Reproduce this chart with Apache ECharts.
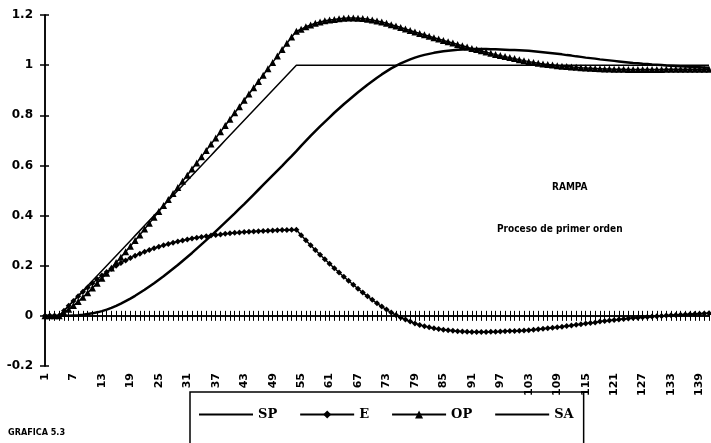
<!DOCTYPE html>
<html>
<head>
<meta charset="utf-8">
<script src="https://cdn.jsdelivr.net/npm/echarts@6/dist/echarts.min.js"></script>
<style>
html,body{margin:0;padding:0;background:#fff;}
#chart{width:711px;height:443px;}
</style>
</head>
<body>
<div id="chart"></div>
<script>
// Category labels (time steps)
const categories = [
1,2,3,4,5,6,7,8,9,10,11,12,13,14,15,16,17,18,19,20,
21,22,23,24,25,26,27,28,29,30,31,32,33,34,35,36,37,38,39,40,
41,42,43,44,45,46,47,48,49,50,51,52,53,54,55,56,57,58,59,60,
61,62,63,64,65,66,67,68,69,70,71,72,73,74,75,76,77,78,79,80,
81,82,83,84,85,86,87,88,89,90,91,92,93,94,95,96,97,98,99,100,
101,102,103,104,105,106,107,108,109,110,111,112,113,114,115,116,117,118,119,120,
121,122,123,124,125,126,127,128,129,130,131,132,133,134,135,136,137,138,139,140,141
].map(String);

// SP: set point (ramp)
const spValues = [
0,0,0,0,
0.02,0.04,0.06,0.08,0.10,0.12,0.14,0.16,0.18,0.20,
0.22,0.24,0.26,0.28,0.30,0.32,0.34,0.36,0.38,0.40,
0.42,0.44,0.46,0.48,0.50,0.52,0.54,0.56,0.58,0.60,
0.62,0.64,0.66,0.68,0.70,0.72,0.74,0.76,0.78,0.80,
0.82,0.84,0.86,0.88,0.90,0.92,0.94,0.96,0.98,1.00,
1,1,1,1,1,1,1,1,1,1,
1,1,1,1,1,1,1,1,1,1,
1,1,1,1,1,1,1,1,1,1,
1,1,1,1,1,1,1,1,1,1,
1,1,1,1,1,1,1,1,1,1,
1,1,1,1,1,1,1,1,1,1,
1,1,1,1,1,1,1,1,1,1,
1,1,1,1,1,1,1,1,1,1,
1,1,1,1,1,1,1
];

// E: error
const eValues = [
0,0,0,0,
0.020,0.040,0.059,0.078,0.096,0.113,0.130,0.146,0.161,0.175,
0.188,0.200,0.211,0.221,0.231,0.240,0.248,0.256,0.263,0.270,
0.276,0.282,0.287,0.292,0.297,0.301,0.305,0.309,0.312,0.315,
0.318,0.321,0.323,0.325,0.327,0.329,0.331,0.332,0.334,0.335,
0.336,0.337,0.338,0.339,0.340,0.341,0.342,0.342,0.343,0.343,
0.322,0.302,0.282,0.263,0.244,0.226,0.208,0.190,0.173,0.156,
0.140,0.124,0.108,0.093,0.078,0.064,0.050,0.037,0.025,0.013,
0.003,-0.007,-0.015,-0.023,-0.030,-0.036,-0.041,-0.045,-0.049,-0.052,
-0.055,-0.057,-0.059,-0.061,-0.062,-0.063,-0.064,-0.064,-0.064,-0.064,
-0.063,-0.063,-0.062,-0.061,-0.060,-0.060,-0.059,-0.058,-0.057,-0.055,
-0.053,-0.051,-0.049,-0.047,-0.045,-0.043,-0.040,-0.038,-0.035,-0.033,
-0.030,-0.028,-0.026,-0.023,-0.021,-0.019,-0.017,-0.015,-0.013,-0.011,
-0.009,-0.008,-0.006,-0.005,-0.003,-0.002,-0.001,0.001,0.002,0.003,
0.004,0.005,0.006,0.007,0.008,0.009,0.010
];

// OP: controller output
const opValues = [
0,0,0,0,
0.012,0.026,0.041,0.057,0.074,0.092,0.111,0.130,0.150,0.170,
0.191,0.213,0.234,0.256,0.278,0.301,0.323,0.346,0.369,0.393,
0.416,0.440,0.464,0.488,0.512,0.537,0.561,0.586,0.610,0.635,
0.660,0.685,0.709,0.734,0.759,0.784,0.810,0.834,0.860,0.885,
0.910,0.935,0.960,0.986,1.011,1.036,1.062,1.087,1.112,1.135,
1.143,1.153,1.160,1.167,1.172,1.177,1.180,1.182,1.185,1.187,
1.188,1.188,1.187,1.186,1.183,1.180,1.176,1.172,1.167,1.161,
1.156,1.150,1.144,1.138,1.132,1.126,1.121,1.115,1.109,1.104,
1.098,1.093,1.088,1.082,1.077,1.072,1.066,1.062,1.057,1.052,
1.047,1.042,1.038,1.034,1.030,1.026,1.022,1.018,1.014,1.011,
1.008,1.005,1.003,1.001,0.998,0.996,0.995,0.993,0.992,0.990,
0.989,0.988,0.987,0.986,0.985,0.985,0.984,0.984,0.984,0.983,
0.983,0.983,0.983,0.983,0.983,0.983,0.983,0.984,0.984,0.984,
0.984,0.984,0.984,0.984,0.984,0.984,0.984
];

// SA: process output
const saValues = [
0,0,0,0,
0.000,0.000,0.001,0.002,0.004,0.007,0.010,0.014,0.019,0.025,
0.032,0.040,0.049,0.059,0.069,0.080,0.092,0.104,0.117,0.130,
0.144,0.158,0.173,0.188,0.203,0.219,0.235,0.251,0.268,0.285,
0.302,0.319,0.337,0.355,0.373,0.391,0.409,0.428,0.446,0.465,
0.484,0.503,0.522,0.541,0.560,0.579,0.598,0.618,0.637,0.657,
0.678,0.698,0.718,0.737,0.756,0.774,0.792,0.810,0.827,0.844,
0.860,0.876,0.892,0.907,0.922,0.936,0.950,0.963,0.975,0.987,
0.997,1.007,1.015,1.023,1.030,1.036,1.041,1.045,1.049,1.052,
1.055,1.057,1.059,1.061,1.062,1.063,1.064,1.064,1.064,1.064,
1.063,1.063,1.062,1.061,1.060,1.060,1.059,1.058,1.057,1.055,
1.053,1.051,1.049,1.047,1.045,1.043,1.040,1.038,1.035,1.033,
1.030,1.028,1.026,1.023,1.021,1.019,1.017,1.015,1.013,1.011,
1.009,1.008,1.006,1.005,1.003,1.002,1.001,0.999,0.998,0.997,
0.996,0.995,0.994,0.993,0.992,0.991,0.990
];

const seriesNames = ['SP', 'E', 'OP', 'SA'];
const annotationTitle = 'RAMPA';
const annotationSub = 'Proceso de primer orden';
const figureLabel = 'GRAFICA 5.3';

const FONT = '"DejaVu Sans", sans-serif';
const chart = echarts.init(document.getElementById('chart'), null, {renderer: 'canvas'});

const yCommon = {
  type: 'value', min: -0.2, max: 1.2, interval: 0.2, position: 'left',
  splitLine: {show: false},
  axisLine: {show: true, lineStyle: {color: '#000', width: 1.5}}
};
const xCommon = {
  type: 'category', data: categories, boundaryGap: false, position: 'bottom',
  splitLine: {show: false},
  axisLine: {show: true, onZero: true, lineStyle: {color: '#000', width: 1.5}}
};

chart.setOption({
  animation: false,
  backgroundColor: '#fff',
  grid: {left: 45, right: 2, top: 15, bottom: 77, containLabel: false, outerBoundsMode: 'none'},
  xAxis: [
    Object.assign({}, xCommon, {
      axisTick: {show: true, interval: 0, inside: false, length: 5, lineStyle: {color: '#000', width: 1}},
      axisLabel: {interval: 5, rotate: 90, margin: 7, color: '#000', fontFamily: FONT, fontSize: 11, fontWeight: 'bold'}
    }),
    Object.assign({}, xCommon, {
      axisTick: {show: true, interval: 0, inside: true, length: 5, lineStyle: {color: '#000', width: 1}},
      axisLabel: {show: false}
    })
  ],
  yAxis: [
    Object.assign({}, yCommon, {
      axisTick: {show: true, inside: false, length: 5, lineStyle: {color: '#000', width: 1.5}},
      axisLabel: {margin: 12, color: '#000', fontFamily: FONT, fontSize: 12, fontWeight: 'bold'}
    }),
    Object.assign({}, yCommon, {
      axisTick: {show: true, inside: true, length: 4, lineStyle: {color: '#000', width: 1.5}},
      axisLabel: {show: false}
    })
  ],
  legend: {
    left: 190, top: 392,
    padding: [16, 10, 30, 8],
    itemWidth: 54, itemHeight: 10, itemGap: 22,
    borderColor: '#000', borderWidth: 1.5, borderRadius: 0,
    textStyle: {color: '#000', fontFamily: '"DejaVu Serif", serif', fontSize: 13, fontWeight: 'bold'},
    data: [
      {name: seriesNames[0], itemStyle: {opacity: 0}},
      {name: seriesNames[1]},
      {name: seriesNames[2]},
      {name: seriesNames[3], itemStyle: {opacity: 0}}
    ]
  },
  series: [
    {name: seriesNames[0], type: 'line', data: spValues, xAxisIndex: 0, yAxisIndex: 0,
     showSymbol: false, symbol: 'none', lineStyle: {color: '#000', width: 1.5}, itemStyle: {color: '#000'}},
    {name: seriesNames[1], type: 'line', data: eValues, xAxisIndex: 0, yAxisIndex: 0,
     symbol: 'diamond', symbolSize: 6, showAllSymbol: true,
     lineStyle: {color: '#000', width: 1.5}, itemStyle: {color: '#000'}},
    {name: seriesNames[2], type: 'line', data: opValues, xAxisIndex: 0, yAxisIndex: 0,
     symbol: 'triangle', symbolSize: 7, showAllSymbol: true,
     lineStyle: {color: '#000', width: 1.5}, itemStyle: {color: '#000'}},
    {name: seriesNames[3], type: 'line', data: saValues, xAxisIndex: 0, yAxisIndex: 0,
     showSymbol: false, symbol: 'none', lineStyle: {color: '#000', width: 2.5}, itemStyle: {color: '#000'}}
  ],
  graphic: [
    {type: 'text', left: 552, top: 182, style: {text: annotationTitle, fill: '#000', font: 'bold 10px "DejaVu Sans Condensed", "DejaVu Sans", sans-serif'}},
    {type: 'text', left: 497, top: 224, style: {text: annotationSub, fill: '#000', font: 'bold 10px "DejaVu Sans Condensed", "DejaVu Sans", sans-serif'}},
    {type: 'text', left: 8, top: 428, style: {text: figureLabel, fill: '#000', font: 'bold 9px "DejaVu Sans Condensed", "DejaVu Sans", sans-serif'}}
  ]
});
</script>
</body>
</html>
